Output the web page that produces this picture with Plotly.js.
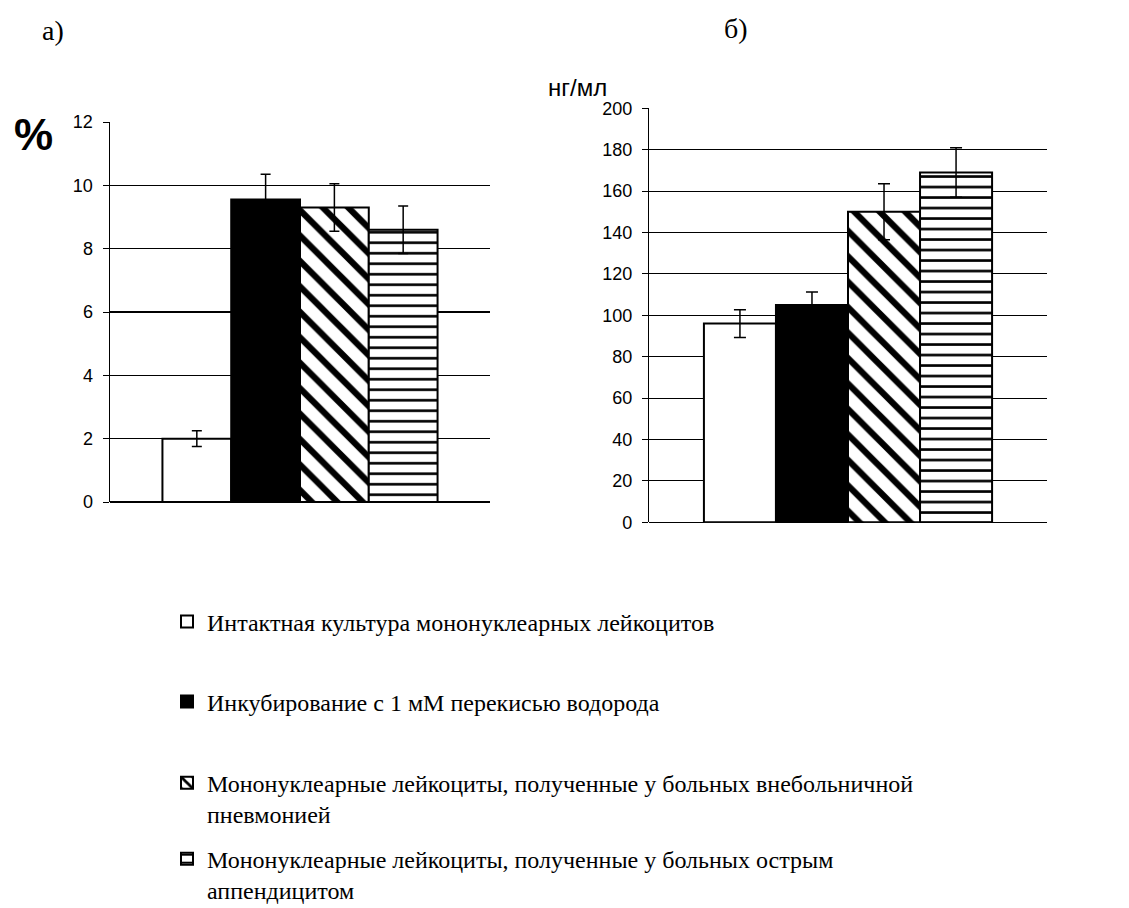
<!DOCTYPE html>
<html><head><meta charset="utf-8">
<script src="https://cdn.plot.ly/plotly-3.0.1.min.js"></script>
<style>html,body{margin:0;padding:0;background:#fff}#chart{width:1129px;height:908px}</style>
</head><body><div id="chart"></div>
<script>
// ---- data ----
const category = ["группа"];
const seriesNames = [
  "Интактная культура мононуклеарных лейкоцитов",
  "Инкубирование с 1 мМ перекисью водорода",
  "Мононуклеарные лейкоциты, полученные у больных внебольничной<br>пневмонией",
  "Мононуклеарные лейкоциты, полученные у больных острым<br>аппендицитом"
];
const percentValues = [2.0, 9.55, 9.3, 8.6];
const percentErrors = [0.25, 0.8, 0.75, 0.75];
const ngValues = [96, 105, 150, 169];
const ngErrors = [6.7, 6.3, 13.5, 12];
const panelLabels = ["а)", "б)"];
const percentUnit = "%";
const ngUnit = "нг/мл";

// ---- styles ----
const W = 1129, H = 908;
const px = x => x / W, py = y => 1 - y / H;
const fills = [
  {color: "#ffffff"},
  {color: "#000000"},
  {color: "#ffffff", pattern: {shape: "\\", fgcolor: "#000000", fgopacity: 1, bgcolor: "#ffffff", fillmode: "overlay", size: 18, solidity: 0.35}},
  {color: "#ffffff", pattern: {shape: "-", fgcolor: "#000000", fgopacity: 1, bgcolor: "#ffffff", fillmode: "overlay", size: 10.5, solidity: 0.25}}
];
const legendIds = ["legend", "legend2", "legend3", "legend4"];
const legendRows = [622, 702, 783, 859];
const legendLines = [1, 1, 2, 2];
const legendLeft = 167;
const serif = "Liberation Serif, Times New Roman, serif";
const legendFontSize = 24;

const traces = [];
seriesNames.forEach((name, i) => {
  const marker = Object.assign({}, fills[i], {line: {color: "#000000", width: 2}});
  traces.push({
    type: "bar", x: category, y: [percentValues[i]], name: name,
    xaxis: "x", yaxis: "y", marker: marker,
    error_y: {type: "data", array: [percentErrors[i]], visible: true, color: "#000000", thickness: 1.5, width: 5},
    legend: legendIds[i], showlegend: true, hoverinfo: "y"
  });
  traces.push({
    type: "bar", x: category, y: [ngValues[i]], name: name,
    xaxis: "x2", yaxis: "y2", marker: marker,
    error_y: {type: "data", array: [ngErrors[i]], visible: true, color: "#000000", thickness: 1.5, width: 6},
    showlegend: false, hoverinfo: "y"
  });
});

const tickFont = {family: "Liberation Sans, Arial, sans-serif", size: 18, color: "#000000"};
const xBase = {type: "category", showticklabels: false, ticks: "", showgrid: false, zeroline: false, showline: false, fixedrange: true};
const yBase = {showline: true, linecolor: "#000000", ticks: "outside", ticklen: 6, tickcolor: "#000000",
  gridcolor: "#000000", zeroline: true, zerolinecolor: "#000000", tickfont: tickFont, fixedrange: true};

const legendBase = {
  bgcolor: "rgba(0,0,0,0)", borderwidth: 0, xanchor: "left", yanchor: "middle", valign: "top",
  font: {family: serif, size: legendFontSize, color: "#000000"},
  itemclick: false, itemdoubleclick: false
};

const annotations = [
  {text: panelLabels[0], xref: "paper", yref: "paper", x: px(40), y: py(30), xanchor: "left", yanchor: "middle",
    showarrow: false, font: {family: serif, size: 28, color: "#000"}},
  {text: panelLabels[1], xref: "paper", yref: "paper", x: px(722), y: py(29), xanchor: "left", yanchor: "middle",
    showarrow: false, font: {family: serif, size: 28, color: "#000"}},
  {text: "<b>" + percentUnit + "</b>", xref: "paper", yref: "paper", x: px(12), y: py(134), xanchor: "left", yanchor: "middle",
    showarrow: false, font: {family: "Liberation Sans, Arial, sans-serif", size: 44, color: "#000"}},
  {text: ngUnit, xref: "paper", yref: "paper", x: px(546), y: py(88), xanchor: "left", yanchor: "middle",
    showarrow: false, font: {family: "Liberation Sans, Arial, sans-serif", size: 24, color: "#000"}}
];

const layout = {
  width: W, height: H,
  margin: {l: 0, r: 0, t: 0, b: 0, autoexpand: false},
  paper_bgcolor: "#ffffff", plot_bgcolor: "#ffffff",
  barmode: "group", bargap: 0.276, bargroupgap: 0,
  xaxis: Object.assign({}, xBase, {domain: [px(110), px(490)], anchor: "y"}),
  yaxis: Object.assign({}, yBase, {domain: [py(502), py(122)], anchor: "x", range: [0, 12], dtick: 2,
    linewidth: 1.5, gridwidth: 1.5, zerolinewidth: 1.5, ticklabelstandoff: 6}),
  xaxis2: Object.assign({}, xBase, {domain: [px(649), px(1047)], anchor: "y2"}),
  yaxis2: Object.assign({}, yBase, {domain: [py(522.3), py(108.3)], anchor: "x2", range: [0, 200], dtick: 20,
    linewidth: 1.2, gridwidth: 1, zerolinewidth: 1.2, ticklabelstandoff: 6}),
  annotations: annotations
};
legendIds.forEach((id, i) => {
  const lineH = legendFontSize * 1.3;
  layout[id] = Object.assign({}, legendBase, {x: px(legendLeft), y: py(legendRows[i] + (legendLines[i] - 1) * lineH / 2)});
});

Plotly.newPlot("chart", traces, layout, {staticPlot: true, displayModeBar: false});
</script></body></html>
